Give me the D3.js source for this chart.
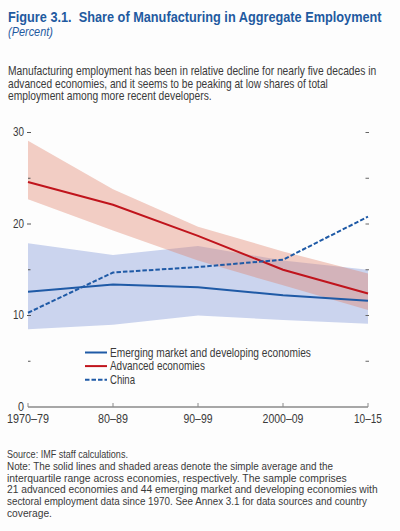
<!DOCTYPE html>
<html><head><meta charset="utf-8">
<script src="https://cdn.jsdelivr.net/npm/d3@7"></script>
<style>
html,body{margin:0;padding:0;background:#fdfdfd;}
svg{display:block;}
</style></head>
<body>
<svg id="chart" width="400" height="531"></svg>
<script>
// ---------- data ----------
const categories = ["1970–79", "80–89", "90–99", "2000–09", "10–15"];
const advMean  = [24.6, 22.1, 18.7, 15.0, 12.4];
const advP25   = [22.7, 19.3, 16.0, 13.3, 10.6];
const advP75   = [29.1, 23.8, 19.7, 17.0, 14.6];
const emdeMean = [12.6, 13.4, 13.1, 12.2, 11.6];
const emdeP25  = [8.5, 9.0, 10.0, 9.5, 9.1];
const emdeP75  = [17.9, 16.6, 17.6, 16.0, 15.0];
const china    = [10.3, 14.7, 15.3, 16.1, 20.8];
const yMajorTicks = [0, 10, 20, 30];
const yMinorTicks = [5, 15, 25];
const seriesNames = ["Emerging market and developing economies", "Advanced economies", "China"];

const titleText = "Figure 3.1.\u00a0 Share of Manufacturing in Aggregate Employment";
const unitText = "(Percent)";
const subtitleLines = [
  "Manufacturing employment has been in relative decline for nearly five decades in",
  "advanced economies, and it seems to be peaking at low shares of total",
  "employment among more recent developers."
];
const footLines = [
  "Source: IMF staff calculations.",
  "Note: The solid lines and shaded areas denote the simple average and the",
  "interquartile range across economies, respectively. The sample comprises",
  "21 advanced economies and 44 emerging market and developing economies with",
  "sectoral employment data since 1970. See Annex 3.1 for data sources and country",
  "coverage."
];

// ---------- layout ----------
const FONT = "'Liberation Sans Narrow', 'Liberation Sans', Arial, sans-serif";
const svg = d3.select("#chart");
const x = d3.scalePoint().domain(categories).range([28, 368]);
const y = d3.scaleLinear().domain([0, 30]).range([407, 132.5]);

// text helper: condenses horizontally with a transform to reach a target width
function txt(s, px, py, size, opts = {}) {
  const t = svg.append("text")
    .attr("x", px).attr("y", py)
    .attr("font-family", FONT)
    .attr("font-size", size)
    .attr("fill", opts.fill || "#333")
    .attr("font-weight", opts.weight || "normal")
    .attr("font-style", opts.style || "normal")
    .attr("text-anchor", opts.anchor || "start")
    .text(s);
  if (opts.width) {
    const w = t.node().getComputedTextLength();
    const sx = opts.width / w;
    if (Math.abs(sx - 1) > 0.005) {
      t.attr("x", px / sx).attr("transform", `scale(${sx},1)`);
    }
  }
  return t;
}

// title
txt(titleText, 8, 22, 15.5, {fill: "#1f5aa0", weight: "bold", width: 374});
txt(unitText, 8, 36, 12, {fill: "#1f5aa0", style: "italic", width: 45});

// subtitle
const subW = [369, 320, 204];
subtitleLines.forEach((s, i) => txt(s, 8, 75 + i * 12.6, 12, {fill: "#3a3a3a", width: subW[i]}));

// ---------- bands ----------
const idx = d3.range(categories.length);
const area = (lo, hi) => d3.area()
  .x(i => x(categories[i]))
  .y0(i => y(lo[i]))
  .y1(i => y(hi[i]))(idx);
const line = (v) => d3.line()
  .x(i => x(categories[i]))
  .y(i => y(v[i]))(idx);

svg.append("path").attr("d", area(emdeP25, emdeP75)).attr("fill", "#cbd4ee");
svg.append("path").attr("d", area(advP25, advP75)).attr("fill", "#df7d66").attr("fill-opacity", 0.38);

// ---------- axes ----------
const axisCol = "#8a8a8a";
svg.append("line").attr("x1", x(categories[0])).attr("x2", x(categories[4]))
  .attr("y1", y(0)).attr("y2", y(0)).attr("stroke", axisCol).attr("stroke-width", 1.6);
svg.selectAll(".xt").data(categories).enter().append("line")
  .attr("x1", d => x(d)).attr("x2", d => x(d))
  .attr("y1", y(0)).attr("y2", y(0) - 4)
  .attr("stroke", axisCol).attr("stroke-width", 1);
const xLabW = [42, 30, 29, 41, 28];
categories.forEach((c, i) => txt(c, x(c), 423, 12, {anchor: "middle", fill: "#3a3a3a", width: xLabW[i]}));

yMajorTicks.forEach(v => {
  txt(String(v), 24, y(v) + 4, 12, {anchor: "end", fill: "#3a3a3a", width: v === 0 ? 6 : 11});
  if (v > 0) svg.append("line").attr("x1", 27).attr("x2", 31).attr("y1", y(v)).attr("y2", y(v))
    .attr("stroke", "#555").attr("stroke-width", 1);
});
yMinorTicks.forEach(v => {
  svg.append("line").attr("x1", 28).attr("x2", 30.5).attr("y1", y(v)).attr("y2", y(v))
    .attr("stroke", "#555").attr("stroke-width", 1);
});
yMajorTicks.concat(yMinorTicks).filter(v => v > 0).forEach(v => {
  svg.append("line").attr("x1", 365.5).attr("x2", 369).attr("y1", y(v)).attr("y2", y(v))
    .attr("stroke", "#666").attr("stroke-width", 1);
});

// ---------- lines ----------
const blue = "#1f5aa6", red = "#c0141c";
svg.append("path").attr("d", line(emdeMean)).attr("fill", "none").attr("stroke", blue).attr("stroke-width", 2);
svg.append("path").attr("d", line(advMean)).attr("fill", "none").attr("stroke", red).attr("stroke-width", 2);
svg.append("path").attr("d", line(china)).attr("fill", "none").attr("stroke", blue).attr("stroke-width", 2)
  .attr("stroke-dasharray", "4.5,2");

// ---------- legend ----------
const legStyles = [
  {c: blue, dash: null},
  {c: red, dash: null},
  {c: blue, dash: "4.5,2"}
];
const legW = [201, 95, 25];
seriesNames.forEach((n, i) => {
  const ly = 352.5 + i * 13.6;
  const l = svg.append("line").attr("x1", 85).attr("x2", 107).attr("y1", ly).attr("y2", ly)
    .attr("stroke", legStyles[i].c).attr("stroke-width", 2);
  if (legStyles[i].dash) l.attr("stroke-dasharray", legStyles[i].dash);
  txt(n, 110, ly + 4.2, 12, {fill: "#3a3a3a", width: legW[i]});
});

// ---------- footer ----------
const footW = [121, 326, 340, 371, 360, 45];
footLines.forEach((s, i) => txt(s, 7, 458 + i * 11.8, 10.8, {fill: "#3a3a3a", width: footW[i]}));
</script>
</body></html>
